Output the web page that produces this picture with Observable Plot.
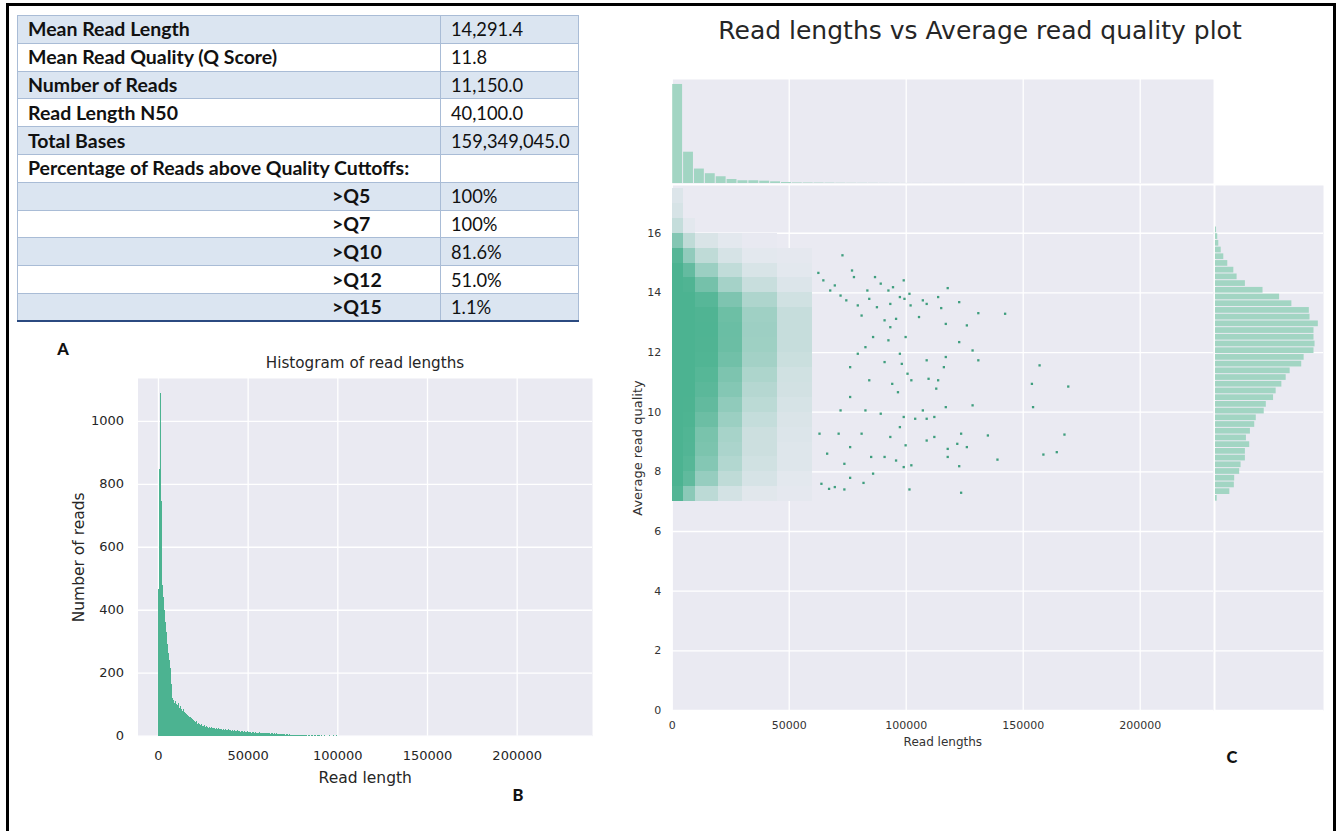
<!DOCTYPE html>
<html><head><meta charset="utf-8">
<script src="https://cdn.jsdelivr.net/npm/d3@7"></script>
<script src="https://cdn.jsdelivr.net/npm/@observablehq/plot@0.6"></script>
<style>
html,body{margin:0;padding:0;background:#fff}
body{width:1341px;height:831px;overflow:hidden;position:relative;font-family:"DejaVu Sans",sans-serif}
.abs{position:absolute}
#frame{position:absolute;left:6px;top:3px;width:1324px;height:900px;border:3px solid #000;border-bottom:none;box-sizing:content-box}
#tbl{position:absolute;left:17px;top:15px;width:561px;border-collapse:collapse;table-layout:fixed;font-family:Lato,"Open Sans",sans-serif;font-size:18.3px;color:#111}
#tbl td{height:27.8px;box-sizing:border-box;padding:0 0 0 10px;border:1.5px solid #a9bcd6;white-space:nowrap;overflow:hidden;line-height:20px}
#tbl td.k{font-weight:700;font-size:19.5px}
#tbl tr:nth-child(odd) td{background:#dbe5f1}
#tbl tr:nth-child(even) td{background:#fff}
#tbl tr:last-child td{border-bottom:2.5px solid #2b4a80}
.panel{position:absolute;font-family:Lato,"Liberation Sans",sans-serif;font-weight:900;font-size:16.5px;color:#111;transform:translate(-50%,-50%)}
.ttl{position:absolute;transform:translate(-50%,-50%);white-space:nowrap;color:#262626}
svg{overflow:visible}
</style></head><body>
<div id="frame"></div>
<table id="tbl"><colgroup><col style="width:423px"><col style="width:138px"></colgroup><tbody></tbody></table>
<div class="panel" style="left:63px;top:349px">A</div>
<div class="panel" style="left:518px;top:795px">B</div>
<div class="panel" style="left:1232px;top:757px">C</div>
<div class="ttl" id="titleB" style="left:365px;top:363px;font-size:15.2px">Histogram of read lengths</div>
<div class="ttl" id="titleC" style="left:980px;top:30px;font-size:25px">Read lengths vs Average read quality plot</div>
<div class="abs" id="plotB" style="left:40px;top:330px"></div>
<div class="abs" id="plotCtop" style="left:600px;top:79px"></div>
<div class="abs" id="plotCmain" style="left:600px;top:185px"></div>
<div class="abs" id="plotCright" style="left:1215px;top:185px"></div>
<script>
// ---------- Panel A: summary table ----------
const statLabels = ["Mean Read Length", "Mean Read Quality (Q Score)", "Number of Reads", "Read Length N50", "Total Bases", "Percentage of Reads above Quality Cuttoffs:"];
const statValues = ["14,291.4", "11.8", "11,150.0", "40,100.0", "159,349,045.0", ""];
const cutoffLabels = [">Q5", ">Q7", ">Q10", ">Q12", ">Q15"];
const cutoffValues = ["100%", "100%", "81.6%", "51.0%", "1.1%"];

// ---------- Panel B: histogram of read lengths (bins of 500 bp) ----------
const histBinWidth = 500;
const histCounts = [
 466, 847, 1088, 744, 560, 480, 440, 400, 360, 330, 290, 262, 240, 215, 190, 165, 120, 112, 105, 110,
 100, 96, 104, 92, 88, 95, 84, 80, 86, 76, 72, 70, 66, 68, 62, 58, 60, 55, 52, 50,
 48, 44, 46, 40, 38, 41, 36, 34, 37, 32, 30, 33, 29, 28, 31, 27, 26, 29, 25, 27,
 24, 26, 23, 25, 22, 24, 21, 23, 20, 22, 21, 19, 22, 20, 18, 21, 19, 17, 20, 18,
 17, 19, 16, 18, 15, 17, 16, 14, 17, 15, 14, 16, 13, 15, 14, 12, 15, 13, 12, 14,
 12, 13, 11, 12, 10, 13, 11, 10, 12, 9, 11, 10, 9, 11, 8, 10, 9, 8, 10, 8,
 7, 9, 8, 7, 8, 6, 7, 8, 6, 7, 5, 6, 7, 5, 6, 5, 4, 6, 5, 4,
 5, 4, 3, 5, 4, 3, 4, 3, 2, 4, 3, 2, 3, 2, 3, 2, 1, 2, 3, 2,
 2, 1, 2, 1, 2, 1, 0, 2, 1, 1, 0, 1, 2, 0, 1, 1, 0, 1, 0, 1,
 1, 0, 1, 0, 0, 1, 0, 0, 1, 0, 0, 1, 0, 0, 0, 1, 0, 0, 0, 1];
const histXTicks = [0, 50000, 100000, 150000, 200000];
const histYTicks = [0, 200, 400, 600, 800, 1000];

// ---------- Panel C: joint plot ----------
const jointXTicks = [0, 50000, 100000, 150000, 200000];
const jointYTicks = [0, 2, 4, 6, 8, 10, 12, 14, 16];
// top marginal: read length histogram (bins of 4650 bp)
const topBinWidth = 4650;
const topCounts = [6170, 1950, 900, 610, 420, 250, 170, 170, 145, 105, 63, 35, 30, 25, 20, 15, 12, 10, 8, 6, 5, 4, 3, 3, 2, 2, 2, 1, 1, 1, 1, 0, 1, 0, 0, 1];
// right marginal: quality histogram (bins of 0.225 from Q 7.0)
const qBinStart = 7.0;
const qBinWidth = 0.225;
const qCounts = [10, 83, 109, 111, 140, 148, 173, 173, 198, 179, 202, 227, 236, 282, 294, 336, 351, 384, 409, 432, 499, 513, 570, 576, 570, 570, 595, 547, 543, 442, 371, 275, 173, 125, 106, 71, 48, 33, 19, 13, 6];
// scatter density: read counts per (length range, 0.5-Q row)
const densLenEdges = [0, 5000, 10000, 20000, 30000, 45000, 60000];
const densQRows = [7.0, 7.5, 8.0, 8.5, 9.0, 9.5, 10.0, 10.5, 11.0, 11.5, 12.0, 12.5, 13.0, 13.5, 14.0, 14.5, 15.0, 15.5, 16.0, 16.5, 17.0];
const densQStep = 0.5;
const dens0_5k   = [68, 150, 200, 234, 247, 312, 390, 468, 540, 663, 741, 754, 715, 527, 267, 137, 61, 23, 6, 3, 2];
const dens5_10k  = [20, 45, 60, 70, 74, 94, 117, 140, 162, 199, 222, 226, 215, 158, 80, 41, 18, 7, 1, 0, 0];
const dens10_20k = [15, 33, 45, 52, 55, 70, 87, 104, 120, 148, 165, 168, 160, 117, 59, 30, 14, 5, 0, 0, 0];
const dens20_30k = [7, 14, 19, 22, 24, 30, 37, 45, 51, 63, 71, 72, 68, 50, 25, 13, 6, 2, 0, 0, 0];
const dens30_45k = [4, 9, 12, 14, 14, 18, 23, 27, 32, 39, 43, 44, 42, 31, 16, 8, 3, 1, 0, 0, 0];
const dens45_60k = [2, 3, 5, 5, 6, 7, 9, 11, 12, 15, 17, 17, 17, 12, 6, 3, 2, 0, 0, 0, 0];
// individual long reads (> 60 kb)
const outLen = [62460, 64590, 67530, 69490, 71950, 72760, 74400, 76850, 77670, 79310, 80940, 83400, 84210, 86670, 87490, 89120, 90760, 92400, 93210, 94360, 95670, 97300, 98940, 99260, 101390, 101880, 107110, 108750, 113650, 114960, 117740, 116920, 122650, 130820, 142270, 125920, 105470, 93210, 99750, 92400, 85850, 82580, 122650, 128370, 97300, 79310, 116920, 130820, 108750, 90760, 98120, 157000, 116100, 76040, 100570, 109560, 102200, 113650, 84210, 153720, 94030, 169260, 112840, 96480, 76040, 128370, 116920, 154210, 107110, 82580, 89120, 71950, 98940, 112020, 103840, 108750, 97300, 62950, 71130, 80940, 123470, 167630, 134910, 93210, 112020, 108750, 121830, 99750, 76040, 125920, 117740, 164350, 66220, 158630, 85030, 90760, 117740, 139000, 95670, 73580, 102200, 122650, 98940, 85850, 76040, 81760, 67040, 73580, 101390, 123470, 63770, 69490];
const outQ = [14.67, 14.42, 14.08, 14.25, 13.91, 15.26, 13.75, 14.75, 14.53, 13.58, 13.24, 14.08, 13.80, 14.53, 13.52, 14.31, 13.08, 14.08, 13.63, 14.19, 13.13, 13.86, 14.42, 13.80, 13.97, 13.58, 13.75, 13.63, 13.86, 13.49, 14.16, 12.96, 13.69, 13.32, 13.30, 12.91, 13.19, 12.85, 12.52, 12.41, 12.52, 12.18, 12.35, 12.07, 11.96, 11.96, 11.85, 11.74, 11.74, 11.68, 11.62, 11.57, 11.51, 11.51, 11.29, 11.12, 11.07, 11.07, 11.07, 10.95, 10.95, 10.86, 10.79, 10.67, 10.51, 10.23, 10.17, 10.17, 10.06, 10.06, 9.95, 10.06, 9.84, 9.84, 9.78, 9.78, 9.50, 9.28, 9.28, 9.28, 9.28, 9.25, 9.22, 9.17, 9.17, 9.05, 8.94, 8.89, 8.83, 8.83, 8.77, 8.66, 8.61, 8.58, 8.50, 8.50, 8.50, 8.41, 8.38, 8.27, 8.22, 8.19, 8.16, 7.94, 7.80, 7.63, 7.43, 7.41, 7.41, 7.30, 7.60, 7.49];

// ---------- styles ----------
const GREEN = "#4CB391";
const MARG = "#a2d5c3";
const BG = "#eaeaf2";
const gridStyle = {stroke: "white", strokeOpacity: 1, strokeWidth: 1.3};

// ---------- build table ----------
const tb = document.querySelector("#tbl tbody");
statLabels.forEach((l, i) => {
  const tr = document.createElement("tr");
  tr.innerHTML = `<td class="k"></td><td></td>`;
  tr.children[0].textContent = l;
  tr.children[1].textContent = statValues[i];
  tb.appendChild(tr);
});
cutoffLabels.forEach((l, i) => {
  const tr = document.createElement("tr");
  tr.innerHTML = `<td class="k" style="padding-left:314px"></td><td></td>`;
  tr.children[0].textContent = l;
  tr.children[1].textContent = cutoffValues[i];
  tb.appendChild(tr);
});

// ---------- Panel B ----------
const histData = histCounts.map((c, i) => ({x1: i * histBinWidth, x2: (i + 1) * histBinWidth, y: c}));
const plotB = Plot.plot({
  width: 570, height: 480,
  marginLeft: 97.5, marginTop: 48, marginRight: 18, marginBottom: 74.3,
  style: {fontFamily: "DejaVu Sans", fontSize: "13px", color: "#262626", background: "transparent", overflow: "visible"},
  x: {domain: [-11400, 242000]},
  y: {domain: [0, 1136]},
  marks: [
    Plot.frame({fill: BG, stroke: null}),
    Plot.gridX({ticks: histXTicks, ...gridStyle}),
    Plot.gridY({ticks: histYTicks, ...gridStyle}),
    Plot.rectY(histData, {x1: "x1", x2: "x2", y: "y", fill: GREEN, inset: 0, shapeRendering: "crispEdges"}),
    Plot.axisX({ticks: histXTicks, tickSize: 0, tickPadding: 15, tickFormat: d => String(d), label: null, fontSize: 13}),
    Plot.axisX({ticks: [], label: "Read length", labelAnchor: "center", labelArrow: "none", labelOffset: 47, fontSize: 15.5}),
    Plot.axisY({ticks: histYTicks, tickSize: 0, tickPadding: 14, tickFormat: d => String(d), label: null, fontSize: 13}),
    Plot.axisY({ticks: [], label: "Number of reads", labelAnchor: "center", labelArrow: "none", labelOffset: 65, fontSize: 15.5})
  ]
});
document.getElementById("plotB").appendChild(plotB);

// ---------- Panel C ----------
const xMax = 231325, yMax = 17.6;
const mainW = 613, mainML = 71.7, mainH = 600, mainMB = 75;
const plotWpx = mainW - mainML, plotHpx = mainH - mainMB;
const lenPx = plotWpx / xMax, qPx = plotHpx / yMax;
const dotArea = 8;
const mix = d3.interpolateRgb(BG, GREEN);
const densCols = [dens0_5k, dens5_10k, dens10_20k, dens20_30k, dens30_45k, dens45_60k];
const densCells = [];
densCols.forEach((arr, ci) => arr.forEach((n, ri) => {
  if (n > 0) {
    const x1 = densLenEdges[ci], x2 = densLenEdges[ci + 1];
    const cellPx = (x2 - x1) * lenPx * densQStep * qPx;
    const cov = 1 - Math.exp(-n * dotArea / cellPx);
    densCells.push({x1, x2, y1: densQRows[ri], y2: densQRows[ri] + densQStep, fill: mix(cov)});
  }
}));
const outliers = outLen.map((l, i) => ({len: l, q: outQ[i]}));

const plotMain = Plot.plot({
  width: mainW, height: mainH,
  marginLeft: mainML, marginTop: 0, marginRight: 0, marginBottom: mainMB,
  style: {fontFamily: "DejaVu Sans", fontSize: "11px", color: "#333", background: "transparent", overflow: "visible"},
  x: {domain: [0, xMax]},
  y: {domain: [0, yMax]},
  marks: [
    Plot.frame({fill: BG, stroke: null}),
    Plot.gridX({ticks: jointXTicks, ...gridStyle}),
    Plot.gridY({ticks: jointYTicks, ...gridStyle}),
    Plot.rect(densCells, {x1: "x1", x2: "x2", y1: "y1", y2: "y2", fill: "fill", inset: 0, shapeRendering: "crispEdges"}),
    Plot.dot(outliers, {x: "len", y: "q", r: 1.3, symbol: "square", fill: "#3f9e7e", stroke: null}),
    Plot.axisX({ticks: jointXTicks, tickSize: 0, tickPadding: 11, tickFormat: d => String(d), label: null, fontSize: 11}),
    Plot.axisX({ticks: [], label: "Read lengths", labelAnchor: "center", labelArrow: "none", labelOffset: 35, fontSize: 12}),
    Plot.axisY({ticks: jointYTicks, tickSize: 0, tickPadding: 11, tickFormat: d => String(d), label: null, fontSize: 11}),
    Plot.axisY({ticks: [], label: "Average read quality", labelAnchor: "center", labelArrow: "none", labelOffset: 39, fontSize: 13})
  ]
});
document.getElementById("plotCmain").appendChild(plotMain);

const topData = topCounts.map((c, i) => ({x1: i * topBinWidth, x2: (i + 1) * topBinWidth, y: c}));
const plotTop = Plot.plot({
  width: mainW, height: 104,
  marginLeft: mainML, marginTop: 0, marginRight: 0, marginBottom: 0,
  style: {background: "transparent", overflow: "visible"},
  x: {domain: [0, xMax], axis: null},
  y: {domain: [0, 6480], axis: null},
  marks: [
    Plot.frame({fill: BG, stroke: null}),
    Plot.gridX({ticks: jointXTicks, ...gridStyle}),
    Plot.rectY(topData, {x1: "x1", x2: "x2", y: "y", fill: MARG, insetLeft: 0.5, insetRight: 0.5})
  ]
});
document.getElementById("plotCtop").appendChild(plotTop);

const qData = qCounts.map((c, i) => ({y1: qBinStart + i * qBinWidth, y2: qBinStart + (i + 1) * qBinWidth, x: c}));
const plotRight = Plot.plot({
  width: 108, height: plotHpx,
  marginLeft: 0, marginTop: 0, marginRight: 0, marginBottom: 0,
  style: {background: "transparent", overflow: "visible"},
  x: {domain: [0, 625], axis: null},
  y: {domain: [0, yMax], axis: null},
  marks: [
    Plot.frame({fill: BG, stroke: null}),
    Plot.gridY({ticks: jointYTicks, ...gridStyle}),
    Plot.rectX(qData, {y1: "y1", y2: "y2", x: "x", fill: MARG, insetTop: 0.5, insetBottom: 0.5})
  ]
});
document.getElementById("plotCright").appendChild(plotRight);
</script>
</body></html>
